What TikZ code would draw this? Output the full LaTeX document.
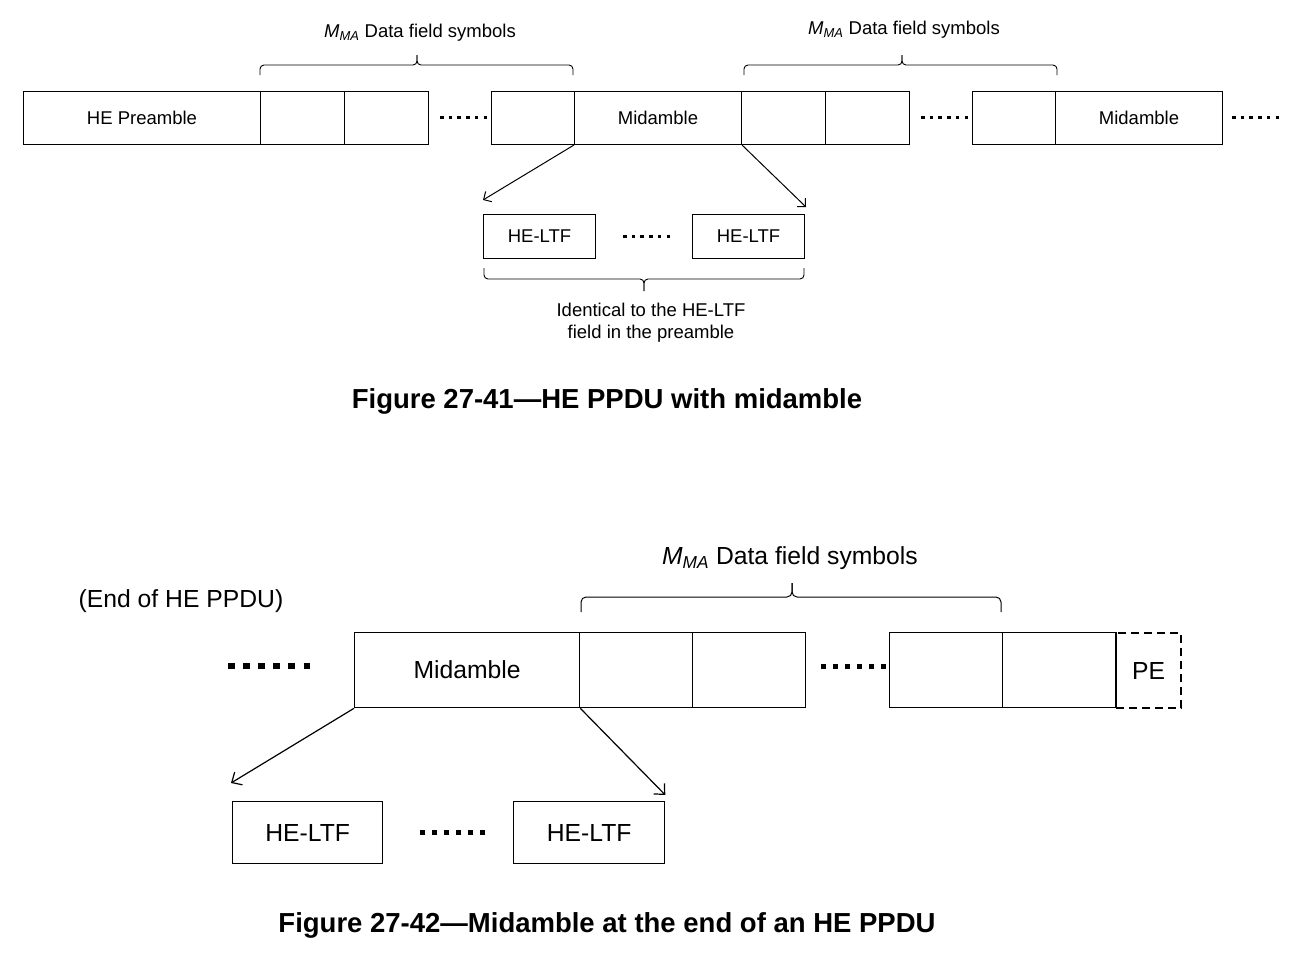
\documentclass[tikz,border=0pt]{standalone}
\usepackage{fontspec}
\setmainfont{Liberation Sans}
\usetikzlibrary{arrows.meta,calc}
\newcommand\fa{\fontsize{18.5}{22}\selectfont}
\newcommand\fb{\fontsize{24.7}{29}\selectfont}
\newcommand\fc{\fontsize{27.5}{32}\selectfont\bfseries}
\newcommand\mma{\textit{M}\textsubscript{\itshape MA}}
\begin{document}
\begin{tikzpicture}[x=1pt,y=-1pt,
  boxa/.style={draw,line width=1pt,inner sep=0pt,anchor=north west,minimum height=53pt,font=\fa},
  boxb/.style={draw,line width=1.3pt,inner sep=0pt,anchor=north west,minimum height=75pt,font=\fb},
  ltfa/.style={draw,line width=1pt,inner sep=0pt,anchor=north west,minimum width=112pt,minimum height=44pt,font=\fa},
  ltfb/.style={draw,line width=1.3pt,inner sep=0pt,anchor=north west,minimum height=62pt,font=\fb},
  dotsa/.style={line width=3.5pt,dash pattern=on 3.5pt off 5.2pt},
  dotsb/.style={line width=6.5pt,dash pattern=on 6.5pt off 8.6pt},
  dotsc/.style={line width=5pt,dash pattern=on 5pt off 7pt},
  bracea/.style={line width=0.9pt,rounded corners=4pt},
  braceb/.style={line width=1pt,rounded corners=5pt},
  arra/.style={line width=1pt,-{Straight Barb[length=6pt,width=12pt]}},
  arrb/.style={line width=1.2pt,-{Straight Barb[length=8pt,width=15pt]}},
  pebox/.style={draw,line width=2pt,dash pattern=on 8pt off 5pt,inner sep=0pt,anchor=north west,minimum height=75pt,font=\fb},
  lbl/.style={inner sep=0pt}]
\useasboundingbox (0,0) rectangle (1298,956);

% ---------- Figure 27-41 ----------
\node[boxa,minimum width=237pt] (pre) at (23,91) {HE Preamble};
\node[boxa,minimum width=84pt] (d1) at (260,91) {};
\node[boxa,minimum width=84pt] (d2) at (344,91) {};
\node[boxa,minimum width=83pt] (d3) at (491,91) {};
\node[boxa,minimum width=167pt] (mid1) at (574,91) {Midamble};
\node[boxa,minimum width=84pt] (d4) at (741,91) {};
\node[boxa,minimum width=84pt] (d5) at (825,91) {};
\node[boxa,minimum width=83pt] (d6) at (972,91) {};
\node[boxa,minimum width=167pt] (mid2) at (1055,91) {Midamble};

\draw[dotsa] (440,117.5) -- (487,117.5);
\draw[dotsa] (921,117.5) -- (968,117.5);
\draw[dotsa] (1232,117.5) -- (1280,117.5);

\node[lbl,font=\fa] (t1) at (420,32.5) {\mma\ Data field symbols};
\node[lbl,font=\fa] (t2) at (904,29.5) {\mma\ Data field symbols};

\draw[bracea] (260,75) -- (260,65) -- (417,65) -- (417,55);
\draw[bracea] (573,75) -- (573,65) -- (417,65) -- (417,55);
\draw[bracea] (744,75) -- (744,65) -- (902,65) -- (902,55);
\draw[bracea] (1057,75) -- (1057,65) -- (902,65) -- (902,55);

\node[ltfa] (la) at (483,214) {HE-LTF};
\node[ltfa] (lb) at (692,214) {HE-LTF};
\draw[dotsa] (623,236.5) -- (672,236.5);

\coordinate (ea) at ($(la.north west)+(0,-14)$);
\coordinate (eb) at ($(lb.north east)+(1,-7)$);
\draw[arra] (mid1.south west) -- (ea);
\draw[arra] (mid1.south east) -- (eb);

\draw[bracea] (484,268) -- (484,279) -- (644,279) -- (644,291);
\draw[bracea] (804,268) -- (804,279) -- (644,279) -- (644,291);

\node[lbl,font=\fa,align=center] (ident) at (651,322.5) {Identical to the HE-LTF\\field in the preamble};

\node[lbl,font=\fc] (cap1) at (607,401) {Figure 27-41---HE PPDU with midamble};

% ---------- Figure 27-42 ----------
\node[lbl,font=\fb] (t3) at (790,558) {\mma\ Data field symbols};
\node[lbl,font=\fb] (endppdu) at (181,601) {(End of HE PPDU)};

\draw[braceb] (581,612) -- (581,597) -- (792,597) -- (792,583);
\draw[braceb] (1001,612) -- (1001,597) -- (792,597) -- (792,583);

\draw[dotsb] (228,666) -- (311,666);
\node[boxb,minimum width=225pt] (mid3) at (354,632) {Midamble};
\node[boxb,minimum width=113pt] (e1) at (579,632) {};
\node[boxb,minimum width=113pt] (e2) at (692,632) {};
\draw[dotsc] (821,666) -- (886,666);
\node[boxb,minimum width=113pt] (e3) at (889,632) {};
\node[boxb,minimum width=113pt] (e4) at (1002,632) {};
\node[pebox,minimum width=65pt] (pe) at (1115,632) {PE};
\draw[line width=1.3pt] (e4.north east) -- (e4.south east);

\node[ltfb,minimum width=150pt] (lc) at (232,801) {HE-LTF};
\node[ltfb,minimum width=151pt] (ld) at (513,801) {HE-LTF};
\draw[dotsc] (420,832) -- (485,832);

\coordinate (ec) at ($(lc.north west)+(-1,-18)$);
\coordinate (ed) at ($(ld.north east)+(0,-6)$);
\draw[arrb] (mid3.south west) -- (ec);
\draw[arrb] (mid3.south east) -- (ed);

\node[lbl,font=\fc] (cap2) at (607,925) {Figure 27-42---Midamble at the end of an HE PPDU};
\end{tikzpicture}
\end{document}
